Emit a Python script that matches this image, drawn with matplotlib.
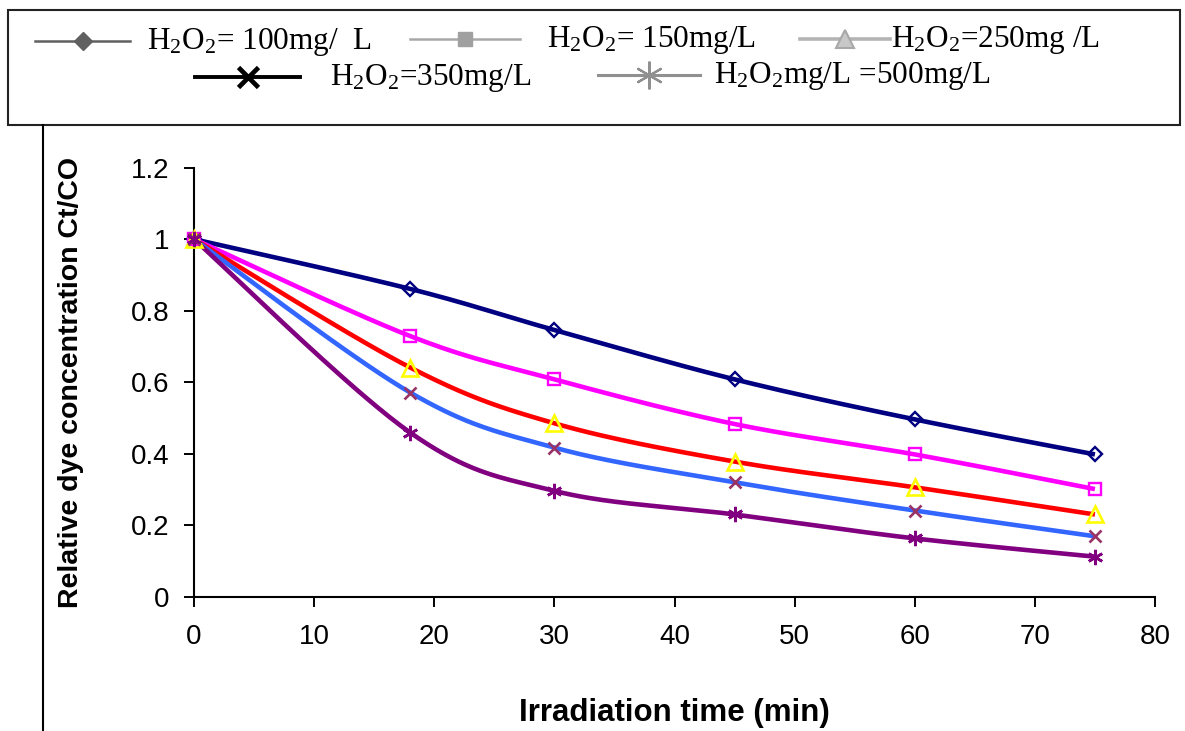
import numpy as np
import matplotlib
matplotlib.use("Agg")
import matplotlib.pyplot as plt
from matplotlib.lines import Line2D
from matplotlib.patches import Rectangle

# ---- data -------------------------------------------------------------
time_min = [0, 18, 30, 45, 60, 75]
c_100 = [1.0, 0.861, 0.746, 0.608, 0.496, 0.398]
c_150 = [1.0, 0.729, 0.608, 0.483, 0.398, 0.301]
c_250 = [1.0, 0.641, 0.485, 0.378, 0.306, 0.230]
c_350 = [1.0, 0.571, 0.417, 0.320, 0.241, 0.169]
c_500 = [1.0, 0.459, 0.296, 0.230, 0.163, 0.112]

x_ticks = [0, 10, 20, 30, 40, 50, 60, 70, 80]
y_ticks = [0, 0.2, 0.4, 0.6, 0.8, 1.0, 1.2]
y_tick_labels = ["0", "0.2", "0.4", "0.6", "0.8", "1", "1.2"]

legend_labels = [
    "H$_2$O$_2$= 100mg/  L",
    "H$_2$O$_2$= 150mg/L",
    "H$_2$O$_2$=250mg /L",
    "H$_2$O$_2$=350mg/L",
    "H$_2$O$_2$mg/L =500mg/L",
]

plt.rcParams["mathtext.default"] = "regular"


def smooth(xs, ys, n=40):
    """Catmull-Rom style smoothed curve through the points."""
    p = np.column_stack([xs, ys]).astype(float)
    pts = np.vstack([p[0], p, p[-1]])
    out = []
    t = np.linspace(0, 1, n)[:, None]
    for i in range(1, len(pts) - 2):
        p0, p1, p2, p3 = pts[i - 1], pts[i], pts[i + 1], pts[i + 2]
        c1 = p1 + (p2 - p0) / 6.0
        c2 = p2 - (p3 - p1) / 6.0
        seg = ((1 - t) ** 3) * p1 + 3 * ((1 - t) ** 2) * t * c1 \
            + 3 * (1 - t) * t ** 2 * c2 + t ** 3 * p2
        out.append(seg if i == 1 else seg[1:])
    seg = np.vstack(out)
    return seg[:, 0], seg[:, 1]


fig = plt.figure(figsize=(11.85, 7.31), dpi=100)
ax = fig.add_axes([194 / 1185, 1 - 596.7 / 731, (1155 - 194) / 1185, (596.7 - 167.7) / 731])

series = [
    (c_100, "#000080", "D", dict(ms=7.5, mfc="none", mec="#000080", mew=1.7)),
    (c_150, "#FF00FF", "s", dict(ms=9, mfc="none", mec="#FF00FF", mew=1.7)),
    (c_250, "#FF0000", "^", dict(ms=11, mfc="none", mec="#FFFF00", mew=1.9)),
    (c_350, "#3366FF", "x", dict(ms=9, mec="#993366", mew=1.9)),
    (c_500, "#800080", (6, 2, 0), dict(ms=11, mec="#800080", mew=1.9)),
]
for vals, col, mk, mkw in series:
    sx, sy = smooth(time_min, vals)
    ax.plot(sx, sy, color=col, lw=3.3, solid_capstyle="butt", zorder=2)
    ax.plot(time_min, vals, linestyle="none", marker=mk, zorder=3, **mkw)

ax.set_xlim(0, 80)
ax.set_ylim(0, 1.2)
ax.set_xticks(x_ticks)
ax.set_yticks(y_ticks)
ax.set_yticklabels(y_tick_labels)
for side in ("top", "right"):
    ax.spines[side].set_visible(False)
for side in ("left", "bottom"):
    ax.spines[side].set_linewidth(1.5)
ax.tick_params(axis="both", direction="out", length=7.5, width=1.4,
               labelsize=20, colors="black")
ax.tick_params(axis="x", pad=12)
ax.tick_params(axis="y", pad=10)
for lab in ax.get_xticklabels() + ax.get_yticklabels():
    lab.set_fontfamily("Liberation Sans")
for ln in ax.lines:
    ln.set_clip_on(False)

ax.set_xlabel("Irradiation time (min)", fontsize=22.5, fontweight="bold",
              family="Liberation Sans", labelpad=35)
ax.set_ylabel("Relative dye concentration Ct/CO", fontsize=20.5, fontweight="bold",
              family="Liberation Sans", labelpad=34)

# ---- legend box drawn on a full-figure overlay -----------------------
ov = fig.add_axes([0, 0, 1, 1], zorder=5)
ov.set_xlim(0, 1185)
ov.set_ylim(731, 0)
ov.axis("off")
ov.patch.set_alpha(0)

ov.add_patch(Rectangle((8, 10), 1172, 115, fill=False, lw=1.5, ec="#222222"))
ov.add_line(Line2D([43.3, 43.3], [125, 731], color="black", lw=1.5))

legend_items = [
    # (line x0, x1, y, text x, colour, marker, marker kwargs, line width)
    (35, 130, 41, 147, "#606060", "D", dict(ms=9.5, mfc="#606060", mec="#606060"), 1.8),
    (410, 520, 39, 547, "#A8A8A8", "s", dict(ms=10, mfc="#A0A0A0", mec="#A0A0A0"), 1.8),
    (800, 890, 39, 891, "#B4B4B4", "^", dict(ms=13, mfc="#C8C8C8", mec="#A8A8A8", mew=1.5), 2.6),
    (195, 300, 77, 330, "#000000", "x", dict(ms=14, mec="#000000", mew=3.4), 2.8),
    (598, 700, 75, 714, "#909090", (6, 2, 0), dict(ms=20, mec="#909090", mew=1.6), 2.2),
]
for (x0, x1, yy, tx, col, mk, mkw, lw), label in zip(legend_items, legend_labels):
    ov.add_line(Line2D([x0, x1], [yy, yy], color=col, lw=lw))
    ov.add_line(Line2D([(x0 + x1) / 2], [yy], marker=mk, linestyle="none", **mkw))
    ov.text(tx, yy + 1, label, fontsize=22.5, family="Liberation Serif",
            va="center", ha="left", color="black")

fig.savefig("out.png", dpi=100)
